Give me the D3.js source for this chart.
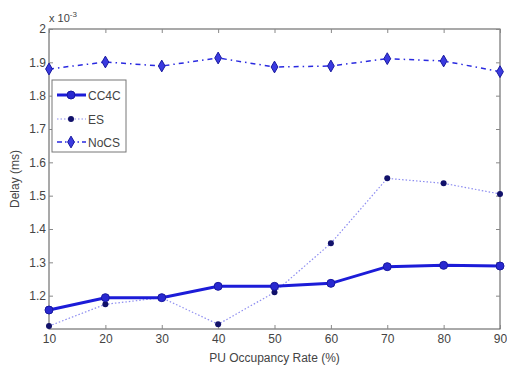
<!DOCTYPE html>
<html lang="en">
<head>
<meta charset="utf-8">
<style>
  body { margin: 0; background: #fff; }
  text { font-family: "Liberation Sans", Arial, sans-serif; }
</style>
</head>
<body>
<svg id="chart" width="507" height="371"></svg>
<script src="https://d3js.org/d3.v7.min.js"></script>
<script>
    // data (delay in units of 1e-3 ms)
    var rates = [10, 20, 30, 40, 50, 60, 70, 80, 90];
    var cc4c = [1.157, 1.194, 1.194, 1.228, 1.228, 1.237, 1.287, 1.291, 1.289];
    var es = [1.109, 1.174, 1.194, 1.114, 1.210, 1.357, 1.552, 1.537, 1.505];
    var nocs = [1.880, 1.901, 1.889, 1.913, 1.886, 1.889, 1.911, 1.904, 1.872];
    var yTicks = [1.2, 1.3, 1.4, 1.5, 1.6, 1.7, 1.8, 1.9, 2];
    var seriesNames = ["CC4C", "ES", "NoCS"];

    var svg = d3.select("#chart");
    var pLeft = 49, pRight = 500, pTop = 29, pBottom = 329;

    var x = d3.scaleLinear().domain([10, 90]).range([pLeft, pRight]);
    var y = d3.scaleLinear().domain([1.1, 2]).range([pBottom, pTop]);

    // frame
    svg.append("rect")
        .attr("x", pLeft).attr("y", pTop)
        .attr("width", pRight - pLeft).attr("height", pBottom - pTop)
        .attr("fill", "#fff").attr("stroke", "#555").attr("stroke-width", 1);

    // axes (ticks inside, matlab style)
    var xAxis = svg.append("g").attr("transform", "translate(0," + pBottom + ")")
        .call(d3.axisBottom(x).tickValues(rates).tickSize(-4).tickPadding(5));
    var xTop = svg.append("g").attr("transform", "translate(0," + pTop + ")")
        .call(d3.axisTop(x).tickValues(rates).tickSize(-4).tickFormat(""));
    var yAxis = svg.append("g").attr("transform", "translate(" + pLeft + ",0)")
        .call(d3.axisLeft(y).tickValues(yTicks).tickSize(-4).tickPadding(3)
            .tickFormat(function (d) { return d === 2 ? "2" : d3.format(".1f")(d); }));
    var yRight = svg.append("g").attr("transform", "translate(" + pRight + ",0)")
        .call(d3.axisRight(y).tickValues(yTicks).tickSize(-4).tickFormat(""));

    [xAxis, xTop, yAxis, yRight].forEach(function (g) {
        g.select(".domain").remove();
        g.selectAll(".tick line").attr("stroke", "#888");
        g.selectAll("text").attr("font-size", 12).attr("fill", "#444")
            .attr("font-family", "'Liberation Sans', Arial, sans-serif");
    });

    // exponent label
    var ex = svg.append("text").attr("x", 49).attr("y", 22)
        .attr("font-size", 11).attr("fill", "#444");
    ex.append("tspan").text("x 10");
    ex.append("tspan").attr("dy", -5).attr("font-size", 8).text("-3");

    // axis titles
    svg.append("text").attr("x", (pLeft + pRight) / 2).attr("y", 362)
        .attr("text-anchor", "middle").attr("font-size", 12).attr("fill", "#444")
        .text("PU Occupancy Rate (%)");
    svg.append("text").attr("transform", "translate(19," + ((pTop + pBottom) / 2) + ") rotate(-90)")
        .attr("text-anchor", "middle").attr("font-size", 12).attr("fill", "#444")
        .text("Delay (ms)");

    var line = d3.line()
        .x(function (d, i) { return x(rates[i]); })
        .y(function (d) { return y(d); });

    // ES: thin dotted
    svg.append("path").attr("d", line(es)).attr("fill", "none")
        .attr("stroke", "#8c8cf0").attr("stroke-width", 1.2).attr("stroke-dasharray", "1.5,2");
    // NoCS: dash-dot
    svg.append("path").attr("d", line(nocs)).attr("fill", "none")
        .attr("stroke", "#2a2ae0").attr("stroke-width", 1.5).attr("stroke-dasharray", "5,4,1.5,4");
    // CC4C: thick solid
    svg.append("path").attr("d", line(cc4c)).attr("fill", "none")
        .attr("stroke", "#1c1cd8").attr("stroke-width", 3);

    svg.selectAll(".es-pt").data(es).enter().append("circle")
        .attr("cx", function (d, i) { return x(rates[i]); })
        .attr("cy", function (d) { return y(d); })
        .attr("r", 3).attr("fill", "#11116a");
    svg.selectAll(".cc-pt").data(cc4c).enter().append("circle")
        .attr("cx", function (d, i) { return x(rates[i]); })
        .attr("cy", function (d) { return y(d); })
        .attr("r", 4).attr("fill", "#2828d0").attr("stroke", "#1818a0").attr("stroke-width", 1);

    var diamond = d3.symbol().type(d3.symbolDiamond).size(40);
    svg.selectAll(".nocs-pt").data(nocs).enter().append("path")
        .attr("d", diamond)
        .attr("transform", function (d, i) { return "translate(" + x(rates[i]) + "," + y(d) + ")"; })
        .attr("fill", "#3a3ae0").attr("stroke", "#1a1aa0").attr("stroke-width", 1);

    // legend
    var lg = svg.append("g");
    lg.append("rect").attr("x", 52).attr("y", 80).attr("width", 74).attr("height", 72)
        .attr("fill", "#fff").attr("stroke", "#777").attr("stroke-width", 1);
    var ly = [95, 119, 142];
    seriesNames.forEach(function (name, i) {
        var yy = ly[i];
        var l = lg.append("line").attr("x1", 57).attr("x2", 86).attr("y1", yy).attr("y2", yy);
        if (i === 0) {
            l.attr("stroke", "#1c1cd8").attr("stroke-width", 3);
            lg.append("circle").attr("cx", 71).attr("cy", yy).attr("r", 4)
                .attr("fill", "#2828d0").attr("stroke", "#1818a0");
        } else if (i === 1) {
            l.attr("stroke", "#8c8cf0").attr("stroke-width", 1.2).attr("stroke-dasharray", "1.5,2");
            lg.append("circle").attr("cx", 71).attr("cy", yy).attr("r", 3).attr("fill", "#11116a");
        } else {
            l.attr("stroke", "#2a2ae0").attr("stroke-width", 1.5).attr("stroke-dasharray", "5,3,1.5,3");
            lg.append("path").attr("d", diamond).attr("transform", "translate(71," + yy + ")")
                .attr("fill", "#3a3ae0").attr("stroke", "#1a1aa0");
        }
        lg.append("text").attr("x", 88).attr("y", yy + 4.5).attr("font-size", 12).attr("fill", "#444")
            .text(name);
    });
</script>
</body>
</html>
